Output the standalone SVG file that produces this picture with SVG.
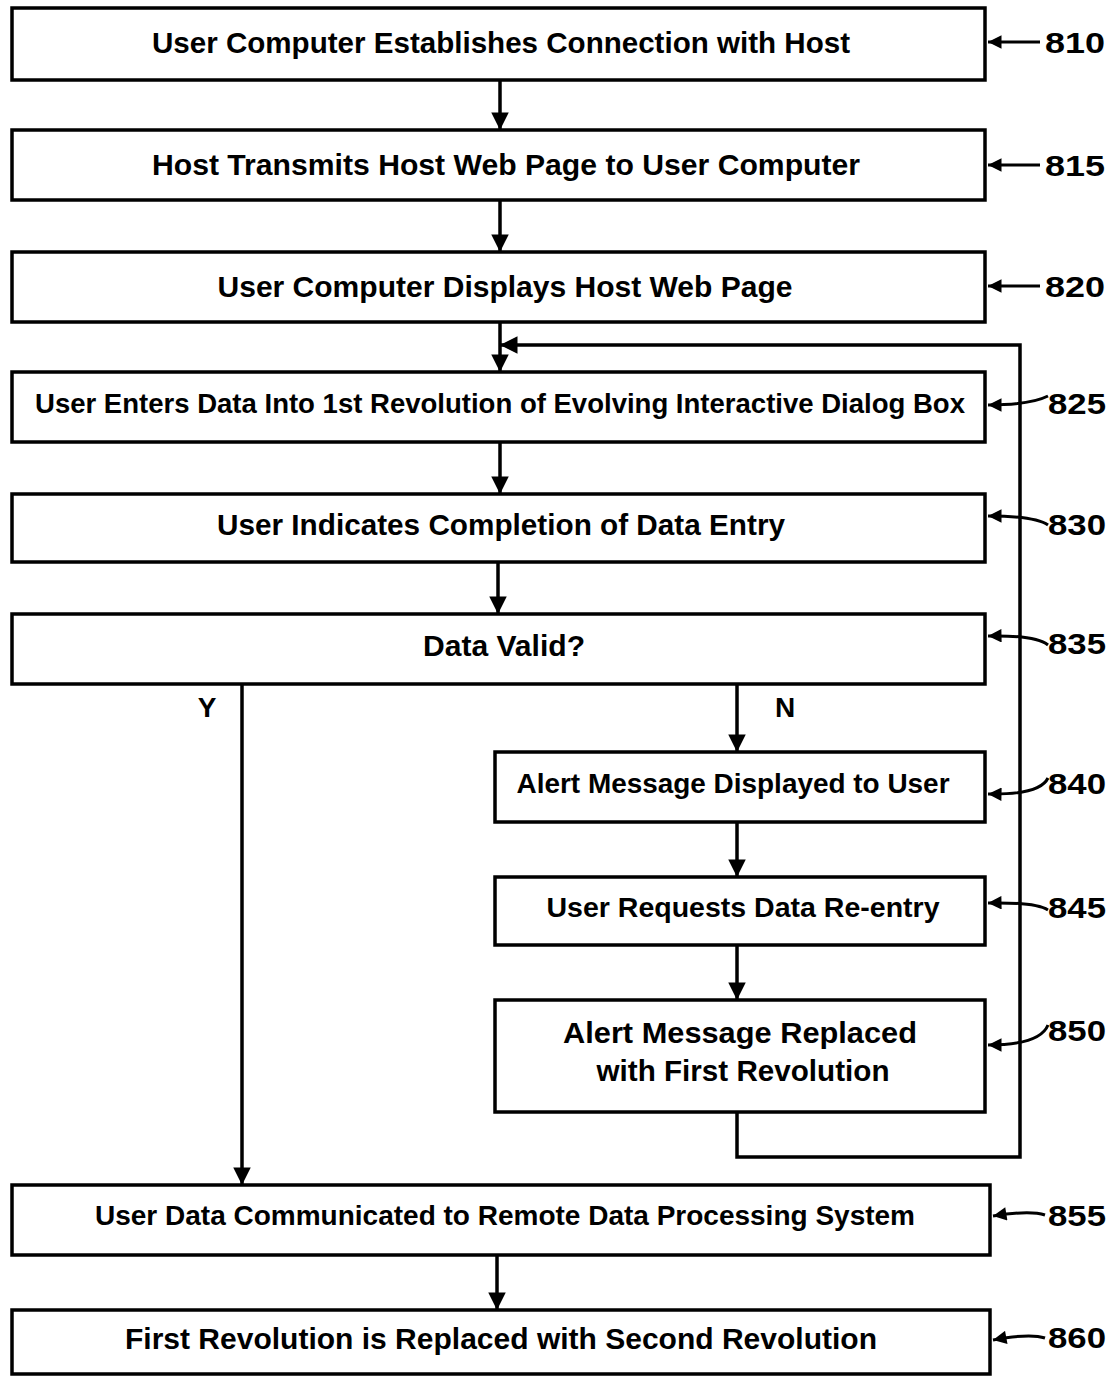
<svg xmlns="http://www.w3.org/2000/svg" width="1113" height="1376" viewBox="0 0 1113 1376">
<defs>
<marker id="ah" viewBox="0 0 10 10" refX="10" refY="5" markerWidth="5.5" markerHeight="5" orient="auto-start-reverse" markerUnits="strokeWidth">
<path d="M0,0 L10,5 L0,10 z" fill="#000"/>
</marker>
<marker id="sh" viewBox="0 0 10 10" refX="10" refY="5" markerWidth="6" markerHeight="4.5" orient="auto" markerUnits="strokeWidth">
<path d="M0,0 L10,5 L0,10 z" fill="#000"/>
</marker>
</defs>
<style>
rect{fill:#fff;stroke:#000;stroke-width:3.5}
text{font-family:"Liberation Sans",Arial,sans-serif;font-weight:bold;font-size:30px;fill:#000;text-anchor:middle;dominant-baseline:central}
.ref{text-anchor:start;font-size:30px}
.c{fill:none;stroke:#000;stroke-width:3.5}
.a{fill:none;stroke:#000;stroke-width:3.5;marker-end:url(#ah)}
.l{fill:none;stroke:#000;stroke-width:3;marker-end:url(#sh)}
</style>
<rect x="0" y="0" width="1113" height="1376" style="fill:#fff;stroke:none"/>
<g id="connectors">
<path class="a" d="M500,80 V130"/>
<path class="a" d="M500,200 V252"/>
<path class="a" d="M500,322 V372"/>
<path class="a" d="M500,442 V494"/>
<path class="a" d="M498,562 V614"/>
<path class="a" d="M242,684 V1185"/>
<path class="a" d="M737,684 V752"/>
<path class="a" d="M737,822 V877"/>
<path class="a" d="M737,945 V1000"/>
<path class="a" d="M737,1112 V1157 H1020 V345 H500"/>
<path class="a" d="M497,1255 V1310"/>
<text x="207" y="707" style="font-size:28px">Y</text>
<text x="785" y="707" style="font-size:28px">N</text>
</g>
<g id="n810"><rect x="12" y="8" width="973" height="72"/><text x="501" y="42" textLength="698" lengthAdjust="spacingAndGlyphs">User Computer Establishes Connection with Host</text></g>
<g id="n815"><rect x="12" y="130" width="973" height="70"/><text x="506" y="164" textLength="708" lengthAdjust="spacingAndGlyphs">Host Transmits Host Web Page to User Computer</text></g>
<g id="n820"><rect x="12" y="252" width="973" height="70"/><text x="505" y="286" textLength="575" lengthAdjust="spacingAndGlyphs">User Computer Displays Host Web Page</text></g>
<g id="n825"><rect x="12" y="372" width="973" height="70"/><text x="500" y="403" textLength="930" lengthAdjust="spacingAndGlyphs" style="font-size:28px">User Enters Data Into 1st Revolution of Evolving Interactive Dialog Box</text></g>
<g id="n830"><rect x="12" y="494" width="973" height="68"/><text x="501" y="524" textLength="568" lengthAdjust="spacingAndGlyphs">User Indicates Completion of Data Entry</text></g>
<g id="n835"><rect x="12" y="614" width="973" height="70"/><text x="504" y="645" textLength="162" lengthAdjust="spacingAndGlyphs">Data Valid?</text></g>
<g id="n840"><rect x="495" y="752" width="490" height="70"/><text x="733" y="783" textLength="433" lengthAdjust="spacingAndGlyphs" style="font-size:28px">Alert Message Displayed to User</text></g>
<g id="n845"><rect x="495" y="877" width="490" height="68"/><text x="743" y="907" textLength="393" lengthAdjust="spacingAndGlyphs" style="font-size:28px">User Requests Data Re-entry</text></g>
<g id="n850"><rect x="495" y="1000" width="490" height="112"/><text x="740" y="1032" textLength="354" lengthAdjust="spacingAndGlyphs">Alert Message Replaced</text><text x="743" y="1070" textLength="293" lengthAdjust="spacingAndGlyphs">with First Revolution</text></g>
<g id="n855"><rect x="12" y="1185" width="978" height="70"/><text x="505" y="1215" textLength="820" lengthAdjust="spacingAndGlyphs" style="font-size:28px">User Data Communicated to Remote Data Processing System</text></g>
<g id="n860"><rect x="12" y="1310" width="978" height="64"/><text x="501" y="1338" textLength="752" lengthAdjust="spacingAndGlyphs">First Revolution is Replaced with Second Revolution</text></g>
<g id="refs">
<path class="l" d="M1040,42 H988"/><text class="ref" x="1045" y="42" textLength="60" lengthAdjust="spacingAndGlyphs">810</text>
<path class="l" d="M1040,165 H988"/><text class="ref" x="1045" y="165" textLength="60" lengthAdjust="spacingAndGlyphs">815</text>
<path class="l" d="M1040,286 H988"/><text class="ref" x="1045" y="286" textLength="60" lengthAdjust="spacingAndGlyphs">820</text>
<path class="l" d="M1048,396 Q1030,405 988,405"/><text class="ref" x="1048" y="403" textLength="58" lengthAdjust="spacingAndGlyphs">825</text>
<path class="l" d="M1048,525 Q1035,516 988,516"/><text class="ref" x="1048" y="524" textLength="58" lengthAdjust="spacingAndGlyphs">830</text>
<path class="l" d="M1048,645 Q1035,635 988,636"/><text class="ref" x="1048" y="643" textLength="58" lengthAdjust="spacingAndGlyphs">835</text>
<path class="l" d="M1048,778 Q1040,795 988,794"/><text class="ref" x="1048" y="783" textLength="58" lengthAdjust="spacingAndGlyphs">840</text>
<path class="l" d="M1048,910 Q1035,902 988,903"/><text class="ref" x="1048" y="907" textLength="58" lengthAdjust="spacingAndGlyphs">845</text>
<path class="l" d="M1048,1025 Q1040,1045 988,1045"/><text class="ref" x="1048" y="1030" textLength="58" lengthAdjust="spacingAndGlyphs">850</text>
<path class="l" d="M1045,1215 Q1030,1210 993,1216"/><text class="ref" x="1048" y="1215" textLength="58" lengthAdjust="spacingAndGlyphs">855</text>
<path class="l" d="M1045,1338 Q1030,1333 993,1340"/><text class="ref" x="1048" y="1337" textLength="58" lengthAdjust="spacingAndGlyphs">860</text>
</g>
</svg>
